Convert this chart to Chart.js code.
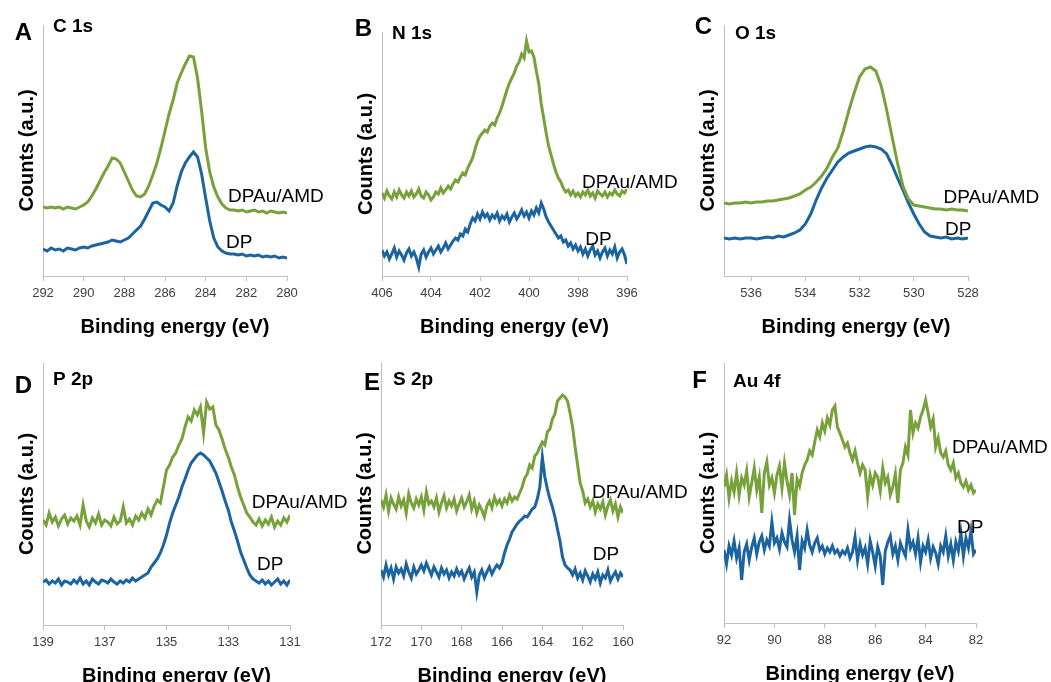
<!DOCTYPE html>
<html>
<head>
<meta charset="utf-8">
<script src="https://cdn.jsdelivr.net/npm/chart.js@4.4.0/dist/chart.umd.min.js"></script>
<style>
  html, body { margin: 0; padding: 0; background: #fff; overflow: hidden; }
  body { width: 1051px; height: 682px; position: relative; }
  .panel { position: absolute; }
  .panel canvas { display: block; }
</style>
</head>
<body>
<div class="panel"><canvas id="cA"></canvas></div>
<div class="panel"><canvas id="cB"></canvas></div>
<div class="panel"><canvas id="cC"></canvas></div>
<div class="panel"><canvas id="cD"></canvas></div>
<div class="panel"><canvas id="cE"></canvas></div>
<div class="panel"><canvas id="cF"></canvas></div>
<script>
// scan grids (binding energy, eV) - first point and step of each acquisition
var scanC1s = { from: 292, step: 0.2 };
var scanN1s = { from: 406, step: 0.1 };
var scanO1s = { from: 537, step: 0.2 };
var scanP2p = { from: 139, step: 0.1 };
var scanS2p = { from: 172, step: 0.125 };
var scanAu4f = { from: 92, step: 0.1 };

// tick labels on the energy axes
var ticksC1s = [292, 290, 288, 286, 284, 282, 280];
var ticksN1s = [406, 404, 402, 400, 398, 396];
var ticksO1s = [536, 534, 532, 530, 528];
var ticksP2p = [139, 137, 135, 133, 131];
var ticksS2p = [172, 170, 168, 166, 164, 162, 160];
var ticksAu4f = [92, 90, 88, 86, 84, 82];

// counts (a.u., offset stacked)
var amdC1s = [69, 68, 69, 68, 69, 67, 69, 68, 67, 69,
  71, 74, 80, 87, 95, 103, 110, 118, 117, 113,
  104, 95, 86, 80, 79, 82, 90, 101, 113, 128,
  145, 162, 176, 193, 203, 212, 220, 219, 198, 165,
  128, 104, 89, 79, 72, 68, 66, 66, 65, 66,
  64, 65, 66, 64, 65, 63, 65, 64, 63, 64, 63];
var dpC1s = [27, 25, 28, 26, 27, 25, 28, 27, 26, 28,
  29, 28, 30, 31, 32, 33, 34, 36, 35, 34,
  36, 38, 42, 46, 50, 57, 65, 73, 74, 71,
  69, 65, 73, 90, 104, 113, 119, 124, 119, 102,
  78, 55, 38, 29, 25, 23, 22, 22, 21, 22,
  20, 21, 20, 21, 19, 20, 19, 20, 18, 19, 18];

var amdN1s = [83, 78, 85, 80, 77, 84, 79, 86, 81, 78, 84,
  80, 85, 79, 82, 87, 80, 78, 84, 81, 76,
  79, 84, 82, 88, 83, 86, 90, 87, 92, 96,
  94, 99, 103, 101, 108, 113, 118, 127, 135, 140,
  143, 146, 144, 150, 153, 151, 158, 163, 170, 178,
  186, 193, 198, 203, 210, 214, 222, 218, 235, 224,
  225, 219, 205, 192, 172, 158, 143, 130, 121, 112,
  104, 98, 94, 88, 84, 86, 81, 85, 80, 83,
  79, 84, 81, 86, 80, 83, 78, 85, 82, 80,
  84, 79, 83, 81, 86, 82, 80, 85, 83, 87];
var dpN1s = [26, 20, 24, 17, 22, 28, 19, 25, 21, 16, 23,
  27, 20, 24, 18, 9, 22, 26, 19, 24, 28,
  22, 26, 30, 24, 28, 33, 27, 31, 35, 38,
  36, 42, 40, 47, 44, 52, 58, 55, 62, 57,
  64, 59, 62, 56, 61, 58, 63, 55, 60, 57,
  62, 54, 59, 63, 57, 61, 66, 60, 64, 58,
  65, 61, 68, 63, 73, 67, 59, 54, 50, 46,
  42, 38, 40, 34, 36, 30, 33, 27, 31, 25,
  29, 22, 27, 20, 26, 30, 21, 25, 18, 24,
  28, 20, 26, 22, 29, 18, 24, 27, 21, 12];

var amdO1s = [73, 72, 73, 73, 74, 73, 74, 74, 75, 75,
  76, 77, 78, 80, 82, 86, 89, 94, 100, 108,
  119, 128, 145, 165, 183, 199, 207, 209, 205, 190,
  166, 139, 113, 90, 77, 71, 70, 69, 68, 67,
  67, 66, 67, 66, 66, 65];
var dpO1s = [38, 37, 38, 37, 38, 38, 37, 38, 39, 38,
  40, 39, 41, 43, 46, 52, 62, 76, 88, 98,
  106, 114, 119, 123, 125, 127, 129, 130, 129, 127,
  122, 111, 98, 86, 73, 62, 52, 44, 40, 39,
  38, 39, 37, 38, 37, 38];

var amdP2p = [105, 100, 112, 103, 108, 99, 106, 110, 101, 107, 104,
  109, 100, 120, 104, 98, 107, 102, 111, 100, 105,
  103, 99, 108, 101, 104, 118, 102, 106, 100, 109,
  105, 112, 107, 116, 110, 119, 125, 122, 138, 155,
  160, 168, 172, 180, 186, 198, 208, 204, 215, 210,
  218, 192, 223, 216, 218, 200, 195, 186, 176, 168,
  158, 150, 138, 128, 120, 112, 108, 103, 100, 106,
  99, 105, 101, 108, 98, 104, 100, 107, 103, 110];
var dpP2p = [43, 45, 41, 44, 42, 46, 40, 44, 43, 41, 45,
  42, 47, 41, 44, 40, 46, 43, 41, 45, 44,
  42, 46, 43, 41, 44, 42, 45, 43, 47, 44,
  46, 48, 50, 52, 58, 62, 66, 72, 80, 90,
  102, 112, 120, 128, 138, 146, 155, 162, 166, 170,
  172, 170, 167, 164, 158, 152, 143, 134, 124, 115,
  103, 94, 84, 73, 65, 57, 50, 46, 44, 42,
  45, 41, 44, 40, 43, 46, 41, 44, 40, 45];

var amdS2p = [125, 118, 130, 114, 127, 121, 116, 128,
  119, 125, 112, 131, 122, 117, 126, 120,
  128, 115, 133, 121, 124, 118, 127, 113,
  122, 129, 117, 124, 119, 126, 114, 121,
  127, 118, 123, 130, 116, 124, 112, 120,
  115, 108, 119, 124, 117, 128, 121, 125,
  119, 126, 122, 130, 124, 128, 126, 132,
  138, 147, 151, 160, 157, 169, 172, 178,
  183, 180, 193, 196, 206, 211, 224, 227,
  230, 228, 224, 212, 198, 178, 160, 142,
  134, 122, 126, 118, 124, 113, 121, 116,
  123, 110, 119, 125, 114, 121, 108, 118, 112];
var dpS2p = [55, 48, 60, 50, 57, 46, 58, 52,
  56, 49, 61, 53, 47, 58, 51, 55,
  60, 54, 62, 56, 50, 58, 53, 48,
  57, 51, 55, 47, 53, 49, 56, 50,
  54, 46, 52, 57, 48, 53, 33, 50,
  55, 47, 53, 58, 51, 56, 60, 57,
  62, 72, 80, 86, 93, 97, 101, 104,
  106, 109, 108, 112, 116, 118, 126, 138,
  168, 148, 136, 126, 118, 108, 96, 84,
  68, 60, 57, 55, 50, 56, 47, 52,
  45, 54, 49, 43, 51, 46, 53, 42,
  50, 47, 55, 44, 49, 53, 46, 52, 48];

var amdAu4f = [136, 148, 125, 142, 131, 150, 128, 145, 138, 152, 126,
  140, 155, 133, 146, 110, 150, 161, 138, 145, 130,
  148, 157, 135, 160, 142, 128, 150, 108, 144, 137,
  150, 158, 163, 172, 168, 181, 193, 186, 200, 192,
  205, 198, 213, 217, 196, 190, 183, 176, 180, 170,
  163, 172, 160, 150, 158, 153, 126, 148, 138, 150,
  146, 132, 155, 140, 146, 128, 136, 149, 120, 153,
  160, 176, 168, 213, 190, 200, 195, 206, 213, 223,
  210, 196, 204, 176, 185, 170, 166, 172, 158, 153,
  160, 145, 150, 140, 136, 142, 133, 138, 130, 133];
var dpAu4f = [73, 59, 77, 68, 82, 65, 75, 43, 71, 79, 63,
  76, 85, 69, 81, 87, 73, 83, 77, 101, 80,
  85, 74, 90, 81, 76, 103, 83, 71, 87, 53,
  82, 75, 93, 78, 71, 80, 85, 73, 77, 69,
  75, 71, 77, 70, 73, 67, 72, 69, 75, 65,
  71, 86, 63, 79, 68, 75, 59, 82, 71, 57,
  76, 67, 38, 72, 81, 87, 69, 77, 63, 80,
  73, 67, 93, 75, 81, 69, 85, 61, 77, 71,
  83, 65, 76, 70, 59, 77, 71, 87, 67, 79,
  63, 81, 72, 90, 67, 85, 75, 92, 69, 73];

var GREEN = '#77a13b';
var BLUE = '#1c64a0';
var AXIS = '#bfbfbf';
var FONT = '"Liberation Sans", Arial, sans-serif';
var X_TITLE = 'Binding energy (eV)';

Chart.defaults.font.family = FONT;

// box = canvas [left, top, width, height], area = plot [left, right, top, bottom] in page px
// canvases are transparent, so the boxes may overlap a little to leave room for the curve names
var panels = [
  { id: 'cA', letter: 'A', element: 'C 1s', scan: scanC1s, amd: amdC1s, dp: dpC1s, ticks: ticksC1s, range: [280, 292],
    box: [0, 0, 355, 340], area: [43, 287, 25, 276], letterAt: [32, 40], elementAt: [53, 32], amdAt: [282.9, 74], dpAt: [283.0, 28] },
  { id: 'cB', letter: 'B', element: 'N 1s', scan: scanN1s, amd: amdN1s, dp: dpN1s, ticks: ticksN1s, range: [396, 406],
    box: [345, 0, 355, 340], area: [382, 627, 32, 276], letterAt: [372, 36], elementAt: [392, 39], amdAt: [397.84, 88], dpAt: [397.7, 31] },
  { id: 'cC', letter: 'C', element: 'O 1s', scan: scanO1s, amd: amdO1s, dp: dpO1s, ticks: ticksO1s, range: [528, 537],
    box: [690, 0, 361, 340], area: [724, 968, 25, 276], letterAt: [712, 34], elementAt: [735, 39], amdAt: [528.9, 73], dpAt: [528.85, 41] },
  { id: 'cD', letter: 'D', element: 'P 2p', scan: scanP2p, amd: amdP2p, dp: dpP2p, ticks: ticksP2p, range: [131, 139],
    box: [0, 340, 355, 350], area: [43, 290, 363, 625], letterAt: [32, 393], elementAt: [53, 385], amdAt: [132.24, 117], dpAt: [132.07, 55] },
  { id: 'cE', letter: 'E', element: 'S 2p', scan: scanS2p, amd: amdS2p, dp: dpS2p, ticks: ticksS2p, range: [160, 172],
    box: [345, 340, 355, 350], area: [381, 623, 362, 625], letterAt: [380, 390], elementAt: [393, 385], amdAt: [161.54, 127], dpAt: [161.5, 65] },
  { id: 'cF', letter: 'F', element: 'Au 4f', scan: scanAu4f, amd: amdAu4f, dp: dpAu4f, ticks: ticksAu4f, range: [82, 92],
    box: [690, 340, 361, 350], area: [724, 976, 363, 623], letterAt: [707, 388], elementAt: [733, 387], amdAt: [82.95, 170], dpAt: [82.75, 90] }
];

var Y_TITLE_W = 28; // room left of the plot for the rotated title
var X_AXIS_H = 62;  // ticks + title under the plot

panels.forEach(function (p) {
    var canvas = document.getElementById(p.id);
    var wrap = canvas.parentNode;
    wrap.style.left = p.box[0] + 'px';
    wrap.style.top = p.box[1] + 'px';
    canvas.width = p.box[2];
    canvas.height = p.box[3];

    var energy = p.amd.map(function (v, i) { return +(p.scan.from - i * p.scan.step).toFixed(3); });
    var toPoints = function (arr) {
        return arr.map(function (v, i) { return { x: energy[i], y: v }; });
    };

    new Chart(canvas, {
        type: 'line',
        data: {
            datasets: [{
                label: 'DPAu/AMD',
                data: toPoints(p.amd),
                borderColor: GREEN,
                borderWidth: 3,
                pointRadius: 0,
                tension: 0
            }, {
                label: 'DP',
                data: toPoints(p.dp),
                borderColor: BLUE,
                borderWidth: 3,
                pointRadius: 0,
                tension: 0
            }]
        },
        options: {
            responsive: false,
            animation: false,
            layout: {
                padding: {
                    left: p.area[0] - p.box[0] - Y_TITLE_W,
                    right: p.box[0] + p.box[2] - p.area[1],
                    top: p.area[2] - p.box[1],
                    bottom: p.box[1] + p.box[3] - p.area[3] - X_AXIS_H
                }
            },
            plugins: {
                legend: { display: false },
                tooltip: { enabled: false }
            },
            scales: {
                x: {
                    type: 'linear',
                    reverse: true, // binding energy decreases to the right
                    min: p.range[0],
                    max: p.range[1],
                    afterBuildTicks: function (s) {
                        s.ticks = p.ticks.map(function (v) { return { value: v }; });
                    },
                    afterFit: function (s) { s.height = X_AXIS_H; },
                    grid: { display: true, drawOnChartArea: false, drawTicks: true, tickLength: 5, color: AXIS },
                    border: { display: true, color: AXIS, width: 1 },
                    ticks: {
                        color: '#404040',
                        font: { size: 13 },
                        padding: 5,
                        autoSkip: false,
                        maxRotation: 0,
                        callback: function (v) { return String(v); }
                    },
                    title: { display: false, text: X_TITLE }
                },
                y: {
                    min: 0,
                    max: p.area[3] - p.area[2],
                    afterFit: function (s) { s.width = Y_TITLE_W; },
                    grid: { display: false },
                    border: { display: true, color: AXIS, width: 1 },
                    ticks: { display: false },
                    title: {
                        display: true,
                        text: 'Counts (a.u.)',
                        color: '#000',
                        font: { size: 20, weight: 'bold' },
                        padding: { top: 0, bottom: 0 }
                    }
                }
            }
        },
        plugins: [{
            id: 'panelText',
            afterDatasetsDraw: function (chart) {
                var ctx = chart.ctx;
                var xs = chart.scales.x, ys = chart.scales.y;
                var ca = chart.chartArea;
                var ox = p.box[0], oy = p.box[1];
                ctx.save();
                ctx.fillStyle = '#000';
                ctx.textBaseline = 'alphabetic';
                // panel letter and core level
                ctx.font = 'bold 24px ' + FONT;
                ctx.textAlign = 'right';
                ctx.fillText(p.letter, p.letterAt[0] - ox, p.letterAt[1] - oy);
                ctx.font = 'bold 19px ' + FONT;
                ctx.textAlign = 'left';
                ctx.fillText(p.element, p.elementAt[0] - ox, p.elementAt[1] - oy);
                // axis title, sits a little right of the plot centre as in the original
                ctx.font = 'bold 20px ' + FONT;
                ctx.textAlign = 'center';
                ctx.fillText(X_TITLE, (ca.left + ca.right) / 2 + 10, ca.bottom + 57);
                // curve names next to their traces
                ctx.font = '19px ' + FONT;
                ctx.textAlign = 'left';
                ctx.fillText(chart.data.datasets[0].label, xs.getPixelForValue(p.amdAt[0]), ys.getPixelForValue(p.amdAt[1]));
                ctx.fillText(chart.data.datasets[1].label, xs.getPixelForValue(p.dpAt[0]), ys.getPixelForValue(p.dpAt[1]));
                ctx.restore();
            }
        }]
    });
});
</script>
</body>
</html>
